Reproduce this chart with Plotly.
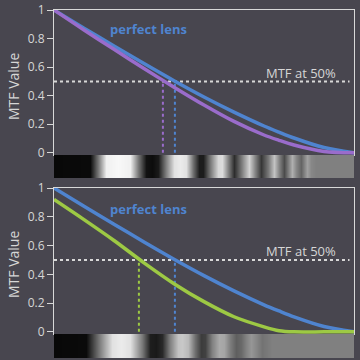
import plotly.graph_objects as go

# ---------------- data ----------------
freq = [0.0, 0.1, 0.2, 0.3, 0.4, 0.5, 0.6, 0.7, 0.75, 0.8, 0.9, 1.0]
perfect_lens = [1.0, 0.873, 0.748, 0.625, 0.505, 0.391, 0.285, 0.188, 0.145, 0.104, 0.037, 0.0]
lens_top = [1.0, 0.86, 0.725, 0.59, 0.46, 0.335, 0.22, 0.125, 0.088, 0.055, 0.01, 0.0]
lens_bottom = [0.92, 0.78, 0.635, 0.48, 0.335, 0.21, 0.105, 0.035, 0.008, 0.0, 0.0, 0.0]

mtf50_level = 0.5
mtf50_top = {"perfect": 0.403, "lens": 0.363}
mtf50_bottom = {"perfect": 0.403, "lens": 0.283}

strip_top_x = [0.0, 0.12, 0.147, 0.173, 0.213, 0.253, 0.28, 0.307, 0.327, 0.347, 0.373, 0.4,
               0.42, 0.44, 0.463, 0.483, 0.497, 0.52, 0.547, 0.56, 0.58, 0.6, 0.623, 0.65,
               0.67, 0.69, 0.713, 0.733, 0.75, 0.767, 0.78, 0.793, 0.807, 0.823, 0.833,
               0.843, 0.857, 0.873, 1.0]
strip_top_v = [8, 10, 120, 240, 248, 240, 120, 18, 12, 25, 130, 225,
               235, 225, 110, 28, 28, 120, 215, 220, 130, 45, 120, 210,
               130, 55, 120, 195, 130, 75, 125, 175, 135, 100, 130,
               160, 135, 128, 128]

strip_bot_x = [0.0, 0.107, 0.153, 0.193, 0.223, 0.253, 0.293, 0.32, 0.34, 0.36, 0.387,
               0.413, 0.427, 0.447, 0.47, 0.49, 0.503, 0.527, 0.55, 0.567, 0.587, 0.607,
               0.623, 0.64, 0.657, 0.673, 0.693, 0.707, 0.727, 1.0]
strip_bot_v = [8, 10, 130, 225, 235, 225, 120, 30, 25, 40, 130,
               195, 200, 185, 110, 60, 65, 130, 170, 165, 125, 95,
               105, 130, 150, 135, 115, 120, 128, 128]

# ---------------- styling ----------------
BG = "#48464f"
TXT = "#d6d6d6"
FRAME = "#d8d8d8"
BLUE = "#4f84cf"
PURPLE = "#9a6ccb"
GREEN = "#9dc944"
FONT = "Open Sans"

W = H = 360
def py(px):
    return 1 - px / H

x_dom = [54 / W, 354 / W]
top_dom = [py(155), py(10)]
top_strip = [py(178), py(155)]
bot_dom = [py(334), py(188)]
bot_strip = [py(358), py(334)]

fig = go.Figure()

def add_panel(xa, ya, lens_vals, lens_color, m50):
    # dotted 50% line
    fig.add_trace(go.Scatter(x=[0, 0.985], y=[mtf50_level, mtf50_level], mode="lines",
                             line=dict(color=FRAME, width=2, dash="dot"),
                             xaxis=xa, yaxis=ya, hoverinfo="skip"))
    fig.add_trace(go.Scatter(x=[m50["perfect"], m50["perfect"]], y=[0, mtf50_level], mode="lines",
                             line=dict(color=BLUE, width=2, dash="dot"),
                             xaxis=xa, yaxis=ya, hoverinfo="skip"))
    fig.add_trace(go.Scatter(x=[m50["lens"], m50["lens"]], y=[0, mtf50_level], mode="lines",
                             line=dict(color=lens_color, width=2, dash="dot"),
                             xaxis=xa, yaxis=ya, hoverinfo="skip"))
    fig.add_trace(go.Scatter(x=freq, y=perfect_lens, mode="lines",
                             line=dict(color=BLUE, width=3.5, shape="spline", smoothing=0.8),
                             xaxis=xa, yaxis=ya))
    fig.add_trace(go.Scatter(x=freq, y=lens_vals, mode="lines",
                             line=dict(color=lens_color, width=3.5, shape="spline", smoothing=0.8),
                             xaxis=xa, yaxis=ya))

add_panel("x", "y", lens_top, PURPLE, mtf50_top)
add_panel("x2", "y2", lens_bottom, GREEN, mtf50_bottom)

gray = [[0, "#000000"], [1, "#ffffff"]]
fig.add_trace(go.Heatmap(x=strip_top_x, y=[0, 1], z=[strip_top_v, strip_top_v],
                         colorscale=gray, zmin=0, zmax=255, zsmooth="best",
                         showscale=False, xaxis="x3", yaxis="y3", hoverinfo="skip"))
fig.add_trace(go.Heatmap(x=strip_bot_x, y=[0, 1], z=[strip_bot_v, strip_bot_v],
                         colorscale=gray, zmin=0, zmax=255, zsmooth="best",
                         showscale=False, xaxis="x4", yaxis="y4", hoverinfo="skip"))

yax = dict(range=[-0.015, 1.0], tickvals=[0, 0.2, 0.4, 0.6, 0.8, 1],
           ticktext=["0", "0.2", "0.4", "0.6", "0.8", "1"],
           ticks="outside", ticklen=6, tickcolor=FRAME, tickwidth=1,
           showline=True, linecolor=FRAME, linewidth=1, mirror=True,
           showgrid=False, zeroline=False, automargin=False,
           tickfont=dict(color=TXT, size=12, family=FONT))
xax = dict(range=[0, 1], showticklabels=False, ticks="", showgrid=False, automargin=False,
           zeroline=False, showline=True, linecolor=FRAME, linewidth=1, mirror=True)
hidden = dict(showticklabels=False, ticks="", showgrid=False, zeroline=False,
              showline=False, automargin=False)

fig.update_layout(
    width=W, height=H, margin=dict(l=0, r=0, t=0, b=0, autoexpand=False),
    paper_bgcolor=BG, plot_bgcolor=BG, showlegend=False,
    xaxis=dict(domain=x_dom, anchor="y", **xax),
    yaxis=dict(domain=top_dom, anchor="x", **yax),
    xaxis2=dict(domain=x_dom, anchor="y2", **xax),
    yaxis2=dict(domain=bot_dom, anchor="x2", **yax),
    xaxis3=dict(domain=x_dom, anchor="y3", range=[0, 1], **hidden),
    yaxis3=dict(domain=top_strip, anchor="x3", range=[0, 1], **hidden),
    xaxis4=dict(domain=x_dom, anchor="y4", range=[0, 1], **hidden),
    yaxis4=dict(domain=bot_strip, anchor="x4", range=[0, 1], **hidden),
)

for xr, yr, y_pl, y_m in [("x", "y", 0.867, 0.559), ("x2", "y2", 0.854, 0.5625)]:
    fig.add_annotation(x=0.315, y=y_pl, xref=xr, yref=yr, text="<b>perfect lens</b>",
                       showarrow=False, font=dict(color=BLUE, size=13, family=FONT))
    fig.add_annotation(x=0.822, y=y_m, xref=xr, yref=yr, text="MTF at 50%",
                       showarrow=False, font=dict(color=TXT, size=13, family=FONT))

for yc in [87, 265]:
    fig.add_annotation(x=13 / W, y=py(yc), xref="paper", yref="paper", text="MTF Value",
                       textangle=-90, showarrow=False, xanchor="center", yanchor="middle",
                       font=dict(color=TXT, size=14, family=FONT))

fig.write_html("out.html", config={"displayModeBar": False},
               post_script="document.body.style.margin='0';document.body.style.background='" + BG + "';")
